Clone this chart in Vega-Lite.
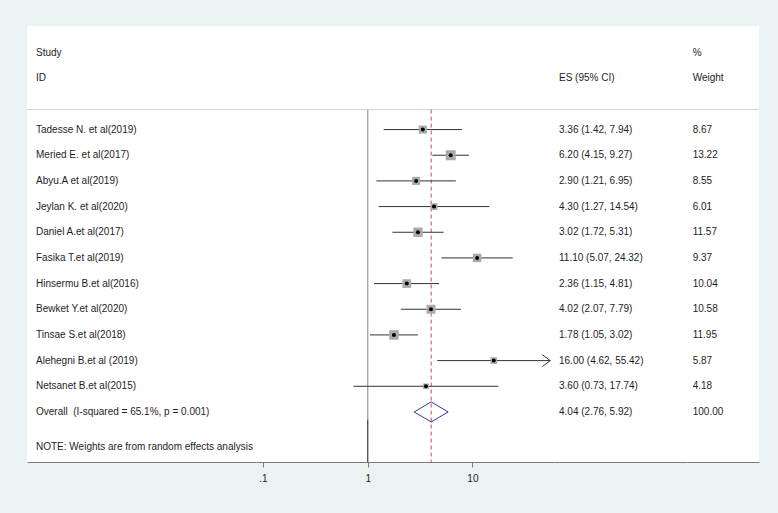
{
  "$schema": "https://vega.github.io/schema/vega-lite/v6.json",
  "background": "#eaf2f3",
  "padding": {"left": 26, "top": 26, "right": 20, "bottom": 21},
  "spacing": 0,
  "bounds": "flush",
  "config": {
    "view": {"fill": "white", "stroke": null},
    "font": "Liberation Sans",
    "text": {"font": "Liberation Sans", "fontSize": 10, "fill": "#1e1e1e", "align": "left", "baseline": "middle"},
    "axisX": {"minExtent": 30, "maxExtent": 30, "domainColor": "#7a7a7a", "domainWidth": 1, "tickColor": "#7a7a7a", "tickSize": 5, "labelFont": "Liberation Sans", "labelFontSize": 10, "labelColor": "#222222", "labelPadding": 6, "grid": false, "title": null}
  },
  "datasets": {
    "studies": [
      {"row": 1, "type": "study", "study": "Tadesse N. et al(2019)", "es": 3.36, "lo": 1.42, "hi": 7.94, "weight": 8.67, "esci": "3.36 (1.42, 7.94)", "wt": "8.67"},
      {"row": 2, "type": "study", "study": "Meried E. et al(2017)", "es": 6.20, "lo": 4.15, "hi": 9.27, "weight": 13.22, "esci": "6.20 (4.15, 9.27)", "wt": "13.22"},
      {"row": 3, "type": "study", "study": "Abyu.A et al(2019)", "es": 2.90, "lo": 1.21, "hi": 6.95, "weight": 8.55, "esci": "2.90 (1.21, 6.95)", "wt": "8.55"},
      {"row": 4, "type": "study", "study": "Jeylan K. et al(2020)", "es": 4.30, "lo": 1.27, "hi": 14.54, "weight": 6.01, "esci": "4.30 (1.27, 14.54)", "wt": "6.01"},
      {"row": 5, "type": "study", "study": "Daniel A.et al(2017)", "es": 3.02, "lo": 1.72, "hi": 5.31, "weight": 11.57, "esci": "3.02 (1.72, 5.31)", "wt": "11.57"},
      {"row": 6, "type": "study", "study": "Fasika T.et al(2019)", "es": 11.10, "lo": 5.07, "hi": 24.32, "weight": 9.37, "esci": "11.10 (5.07, 24.32)", "wt": "9.37"},
      {"row": 7, "type": "study", "study": "Hinsermu B.et al(2016)", "es": 2.36, "lo": 1.15, "hi": 4.81, "weight": 10.04, "esci": "2.36 (1.15, 4.81)", "wt": "10.04"},
      {"row": 8, "type": "study", "study": "Bewket Y.et al(2020)", "es": 4.02, "lo": 2.07, "hi": 7.79, "weight": 10.58, "esci": "4.02 (2.07, 7.79)", "wt": "10.58"},
      {"row": 9, "type": "study", "study": "Tinsae S.et al(2018)", "es": 1.78, "lo": 1.05, "hi": 3.02, "weight": 11.95, "esci": "1.78 (1.05, 3.02)", "wt": "11.95"},
      {"row": 10, "type": "study", "study": "Alehegni B.et al (2019)", "es": 16.00, "lo": 4.62, "hi": 55.42, "weight": 5.87, "esci": "16.00 (4.62, 55.42)", "wt": "5.87"},
      {"row": 11, "type": "study", "study": "Netsanet B.et al(2015)", "es": 3.60, "lo": 0.73, "hi": 17.74, "weight": 4.18, "esci": "3.60 (0.73, 17.74)", "wt": "4.18"},
      {"row": 12, "type": "overall", "study": "Overall\u00a0 (I-squared = 65.1%, p = 0.001)", "es": 4.04, "lo": 2.76, "hi": 5.92, "weight": 100.00, "esci": "4.04 (2.76, 5.92)", "wt": "100.00"}
    ],
    "headers": [
      {"col": "study", "row": -2, "text": "Study"},
      {"col": "study", "row": -1, "text": "ID"},
      {"col": "note", "row": 13, "text": "NOTE: Weights are from random effects analysis"},
      {"col": "es", "row": -1, "text": "ES (95% CI)"},
      {"col": "wt", "row": -2, "text": "%"},
      {"col": "wt", "row": -1, "text": "Weight"}
    ]
  },
  "hconcat": [
    {
      "width": 229,
      "height": 436,
      "layer": [
        {
          "data": {"values": [{}]},
          "mark": {"type": "rule", "color": "#d4d4d4", "strokeWidth": 1},
          "encoding": {"y": {"datum": 0.22, "type": "quantitative", "scale": {"domain": [-3.035, 13.95], "reverse": true, "nice": false, "zero": false}, "axis": null}}
        },
        {
          "data": {"name": "studies"},
          "mark": {"type": "text", "dx": 9},
          "encoding": {
            "x": {"datum": 0, "type": "quantitative", "scale": {"domain": [0, 1], "nice": false}, "axis": {"labels": false, "ticks": false, "domain": true, "title": null}},
            "y": {"field": "row", "type": "quantitative", "scale": {"domain": [-3.035, 13.95], "reverse": true, "nice": false, "zero": false}, "axis": null},
            "text": {"field": "study"}
          }
        },
        {
          "data": {"name": "headers"},
          "transform": [{"filter": "datum.col == 'study'"}],
          "mark": {"type": "text", "dx": 9},
          "encoding": {
            "x": {"datum": 0, "type": "quantitative"},
            "y": {"field": "row", "type": "quantitative"},
            "text": {"field": "text"}
          }
        },
        {
          "data": {"name": "headers"},
          "transform": [{"filter": "datum.col == 'note'"}],
          "mark": {"type": "text", "dx": 9, "dy": 9.5},
          "encoding": {
            "x": {"datum": 0, "type": "quantitative"},
            "y": {"field": "row", "type": "quantitative"},
            "text": {"field": "text"}
          }
        }
      ]
    },
    {
      "width": 298,
      "height": 436,
      "layer": [
        {
          "data": {"values": [{}]},
          "mark": {"type": "rule", "color": "#d4d4d4", "strokeWidth": 1},
          "encoding": {"y": {"datum": 0.22, "type": "quantitative", "scale": {"domain": [-3.035, 13.95], "reverse": true, "nice": false, "zero": false}, "axis": null}}
        },
        {
          "data": {"values": [{}]},
          "mark": {"type": "rule", "color": "#a6a6a6", "strokeWidth": 1.4},
          "encoding": {
            "x": {"datum": 1, "type": "quantitative", "scale": {"type": "log", "domain": [0.0857, 60.18], "nice": false}, "axis": {"values": [0.1, 1, 10], "labelExpr": "datum.value < 0.5 ? '.1' : format(datum.value, 'd')", "labelFlush": false, "labelOverlap": false}},
            "y": {"datum": 0.22, "type": "quantitative"},
            "y2": {"datum": 12.29}
          }
        },
        {
          "data": {"values": [{}]},
          "mark": {"type": "rule", "color": "#555555", "strokeWidth": 1.4},
          "encoding": {
            "x": {"datum": 1, "type": "quantitative"},
            "y": {"datum": 12.29, "type": "quantitative"},
            "y2": {"datum": 13.95}
          }
        },
        {
          "data": {"name": "studies"},
          "transform": [{"filter": "datum.type == 'overall'"}],
          "mark": {"type": "rule", "color": "#cc4a5e", "strokeWidth": 1, "strokeDash": [4, 3]},
          "encoding": {
            "x": {"field": "es", "type": "quantitative"},
            "y": {"datum": 0.22, "type": "quantitative"},
            "y2": {"datum": 13.95}
          }
        },
        {
          "data": {"name": "studies"},
          "transform": [{"filter": "datum.type == 'study'"}],
          "mark": {"type": "rule", "color": "#333333", "strokeWidth": 1},
          "encoding": {
            "x": {"field": "lo", "type": "quantitative"},
            "x2": {"field": "hi"},
            "y": {"field": "row", "type": "quantitative"}
          }
        },
        {
          "data": {"name": "studies"},
          "transform": [{"filter": "datum.type == 'study'"}],
          "mark": {"type": "point", "shape": "square", "filled": true, "color": "#aaaaaa", "opacity": 1, "strokeWidth": 0},
          "encoding": {
            "x": {"field": "es", "type": "quantitative"},
            "y": {"field": "row", "type": "quantitative"},
            "size": {"field": "weight", "type": "quantitative", "scale": {"domain": [0, 13.22], "range": [0, 100]}, "legend": null}
          }
        },
        {
          "data": {"name": "studies"},
          "transform": [{"filter": "datum.type == 'study'"}],
          "mark": {"type": "point", "shape": "circle", "filled": true, "color": "#000000", "opacity": 1, "size": 16},
          "encoding": {
            "x": {"field": "es", "type": "quantitative"},
            "y": {"field": "row", "type": "quantitative"}
          }
        },
        {
          "data": {"name": "studies"},
          "transform": [{"filter": "datum.hi > 50"}],
          "mark": {"type": "point", "shape": "M-1,-0.75L0,0L-1,0.75", "filled": false, "stroke": "#333333", "strokeWidth": 1, "opacity": 1, "size": 256},
          "encoding": {
            "x": {"field": "hi", "type": "quantitative"},
            "y": {"field": "row", "type": "quantitative"}
          }
        },
        {
          "data": {"name": "studies"},
          "transform": [{"filter": "datum.type == 'overall'"}],
          "mark": {"type": "point", "shape": "M-1,0L0,-0.588L1,0L0,0.588Z", "filled": false, "stroke": "#34349e", "strokeWidth": 1, "opacity": 1, "size": 1156},
          "encoding": {
            "x": {"field": "es", "type": "quantitative"},
            "y": {"field": "row", "type": "quantitative"}
          }
        }
      ]
    },
    {
      "width": 133,
      "height": 436,
      "layer": [
        {
          "data": {"values": [{}]},
          "mark": {"type": "rule", "color": "#d4d4d4", "strokeWidth": 1},
          "encoding": {"y": {"datum": 0.22, "type": "quantitative", "scale": {"domain": [-3.035, 13.95], "reverse": true, "nice": false, "zero": false}, "axis": null}}
        },
        {
          "data": {"name": "studies"},
          "mark": {"type": "text", "dx": 5},
          "encoding": {
            "x": {"datum": 0, "type": "quantitative", "scale": {"domain": [0, 1], "nice": false}, "axis": {"labels": false, "ticks": false, "domain": true, "title": null}},
            "y": {"field": "row", "type": "quantitative"},
            "text": {"field": "esci"}
          }
        },
        {
          "data": {"name": "headers"},
          "transform": [{"filter": "datum.col == 'es'"}],
          "mark": {"type": "text", "dx": 5},
          "encoding": {
            "x": {"datum": 0, "type": "quantitative"},
            "y": {"field": "row", "type": "quantitative"},
            "text": {"field": "text"}
          }
        }
      ]
    },
    {
      "width": 72,
      "height": 436,
      "layer": [
        {
          "data": {"values": [{}]},
          "mark": {"type": "rule", "color": "#d4d4d4", "strokeWidth": 1},
          "encoding": {"y": {"datum": 0.22, "type": "quantitative", "scale": {"domain": [-3.035, 13.95], "reverse": true, "nice": false, "zero": false}, "axis": null}}
        },
        {
          "data": {"name": "studies"},
          "mark": {"type": "text", "dx": 5.7},
          "encoding": {
            "x": {"datum": 0, "type": "quantitative", "scale": {"domain": [0, 1], "nice": false}, "axis": {"labels": false, "ticks": false, "domain": true, "title": null}},
            "y": {"field": "row", "type": "quantitative"},
            "text": {"field": "wt"}
          }
        },
        {
          "data": {"name": "headers"},
          "transform": [{"filter": "datum.col == 'wt'"}],
          "mark": {"type": "text", "dx": 5.7},
          "encoding": {
            "x": {"datum": 0, "type": "quantitative"},
            "y": {"field": "row", "type": "quantitative"},
            "text": {"field": "text"}
          }
        }
      ]
    }
  ]
}
